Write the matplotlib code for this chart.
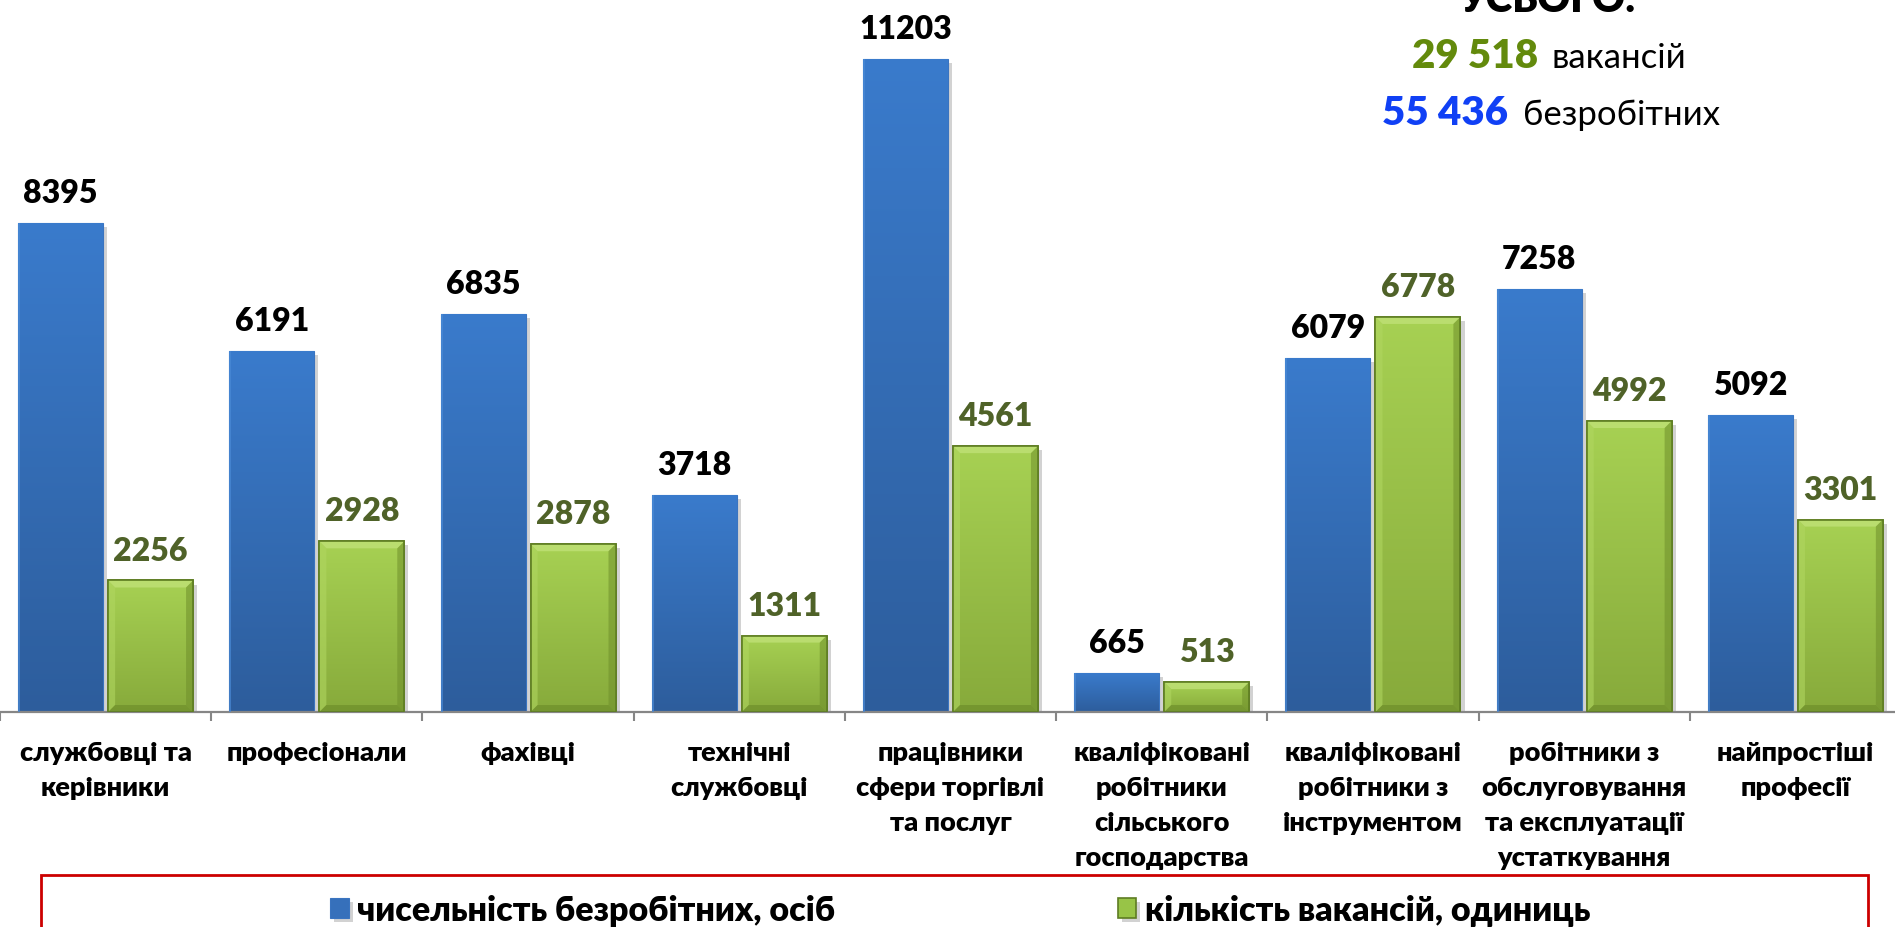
import numpy as np
import matplotlib
matplotlib.use("Agg")
import matplotlib.pyplot as plt
from matplotlib import patheffects as pe
from matplotlib.colors import LinearSegmentedColormap
from matplotlib.patches import Rectangle, Polygon

plt.rcParams['font.family'] = ['Lato', 'DejaVu Sans']

categories = ["службовці та\nкерівники", "професіонали", "фахівці", "технічні\nслужбовці",
              "працівники\nсфери торгівлі\nта послуг", "кваліфіковані\nробітники\nсільського\nгосподарства",
              "кваліфіковані\nробітники з\nінструментом", "робітники з\nобслуговування\nта експлуатації\nустаткування",
              "найпростіші\nпрофесії"]
unemployed = [8395, 6191, 6835, 3718, 11203, 665, 6079, 7258, 5092]
vacancies = [2256, 2928, 2878, 1311, 4561, 513, 6778, 4992, 3301]
series_names = ["чисельність безробітних, осіб", "кількість вакансій, одиниць"]
total_vac = "29 518"
total_unemp = "55 436"

BOLD = 'heavy'
W, H = 1895, 928
fig = plt.figure(figsize=(W / 100, H / 100), dpi=100)
ax_bottom = (H - 713) / H
ax = fig.add_axes([0, ax_bottom, 1901 / W, 1 - ax_bottom])
YMAX = 12232
ax.set_xlim(-0.5, len(categories) - 0.5)
ax.set_ylim(0, YMAX)

x = np.arange(len(categories))
bw = 0.402
off = 0.213
shadow = [pe.SimplePatchShadow(offset=(3, -3), shadow_rgbFace='gray', alpha=0.35), pe.Normal()]
b1 = ax.bar(x - off, unemployed, bw, color='#3670bb', edgecolor='#3a74c0', linewidth=0.8,
            zorder=2, path_effects=shadow, label=series_names[0])
b2 = ax.bar(x + off, vacancies, bw, color='#98c447', edgecolor='#5e7d22', linewidth=1.2,
            zorder=2, path_effects=shadow, label=series_names[1])

cm_blue = LinearSegmentedColormap.from_list('b', ['#2d5d9c', '#3a7bcc'])
cm_green = LinearSegmentedColormap.from_list('g', ['#87aa3b', '#a7d153'])
grad = np.linspace(0, 1, 256).reshape(-1, 1)
px_x = 9 / 1901.0
px_y = YMAX / 713.0
bev = 7
for rect in b1:
    x0, w, h = rect.get_x(), rect.get_width(), rect.get_height()
    im = ax.imshow(grad, extent=(x0, x0 + w, 0, h), origin='lower', aspect='auto',
                   cmap=cm_blue, zorder=2.5)
    im.set_clip_path(rect)
    ax.add_patch(Rectangle((x0, 0), 2 * px_x, h, facecolor='#4a8ad6', edgecolor='none',
                           alpha=0.7, zorder=2.55))
for rect in b2:
    x0, w, h = rect.get_x(), rect.get_width(), rect.get_height()
    im = ax.imshow(grad, extent=(x0, x0 + w, 0, h), origin='lower', aspect='auto',
                   cmap=cm_green, zorder=2.5)
    im.set_clip_path(rect)
    dx, dy = bev * px_x, min(bev * px_y, h / 2)
    x1, y1 = x0 + w, h
    # bevel facets
    ax.add_patch(Polygon([(x0, y1), (x1, y1), (x1 - dx, y1 - dy), (x0 + dx, y1 - dy)],
                         closed=True, facecolor='#c2e27a', edgecolor='none', alpha=0.75, zorder=2.55))
    ax.add_patch(Polygon([(x0, 0), (x0, y1), (x0 + dx, y1 - dy), (x0 + dx, dy)],
                         closed=True, facecolor='#b0d660', edgecolor='none', alpha=0.6, zorder=2.55))
    ax.add_patch(Polygon([(x1, 0), (x1, y1), (x1 - dx, y1 - dy), (x1 - dx, dy)],
                         closed=True, facecolor='#6f8f2b', edgecolor='none', alpha=0.55, zorder=2.55))
    ax.add_patch(Polygon([(x0, 0), (x1, 0), (x1 - dx, dy), (x0 + dx, dy)],
                         closed=True, facecolor='#6a8a28', edgecolor='none', alpha=0.6, zorder=2.55))
    ax.add_patch(Rectangle((x0, 0), w, h, facecolor='none', edgecolor='#5e7d22',
                           linewidth=1.2, zorder=2.6))

ax.set_xlim(-0.5, len(categories) - 0.5)
ax.set_ylim(0, YMAX)

for rect, v in zip(b1, unemployed):
    ax.annotate(str(v), (rect.get_x() + rect.get_width() / 2, rect.get_height()),
                xytext=(0, 15), textcoords='offset points', ha='center', va='baseline',
                fontsize=23, fontweight=BOLD, color='black')
for rect, v in zip(b2, vacancies):
    ax.annotate(str(v), (rect.get_x() + rect.get_width() / 2, rect.get_height()),
                xytext=(0, 15), textcoords='offset points', ha='center', va='baseline',
                fontsize=23, fontweight=BOLD, color='#4f6228')

for s in ['top', 'left', 'right']:
    ax.spines[s].set_visible(False)
ax.spines['bottom'].set_color('#868686')
ax.spines['bottom'].set_linewidth(1.6)
ax.set_yticks([])
ax.set_xticks(x)
ax.set_xticklabels(categories, fontsize=19.5, fontweight=BOLD, linespacing=1.55, va='top')
ax.tick_params(axis='x', which='major', length=0, pad=20)
ax.set_xticks(np.arange(-0.5, len(categories)), minor=True)
ax.tick_params(axis='x', which='minor', length=6.5, width=1.5, color='#868686', direction='out')
ax.set_facecolor('none')

# legend frame
fig.patches.append(Rectangle((41 / W, -0.02), (1868 - 41) / W, (928 - 876) / H + 0.02,
                             transform=fig.transFigure, facecolor='none',
                             edgecolor='#cc0000', linewidth=2))
leg = fig.legend(handles=[b1, b2], labels=series_names, loc='center',
                 bbox_to_anchor=(960 / W, 1 - 911 / H), ncol=2, frameon=False,
                 prop={'size': 24.5, 'weight': BOLD}, handlelength=0.55, handleheight=0.55,
                 handletextpad=0.25, columnspacing=8.3)

# totals
fig.text(1548 / W, 1 - 12 / H, "УСЬОГО:", ha='center', va='baseline', fontsize=29,
         fontweight=BOLD, color='black')
fig.text(1538 / W, 1 - 68 / H, total_vac, ha='right', va='baseline', fontsize=29,
         fontweight=BOLD, color='#638a0c')
fig.text(1552 / W, 1 - 68 / H, "вакансій", ha='left', va='baseline', fontsize=25, color='black')
fig.text(1508 / W, 1 - 125 / H, total_unemp, ha='right', va='baseline', fontsize=29,
         fontweight=BOLD, color='#1040f5')
fig.text(1523 / W, 1 - 125 / H, "безробітних", ha='left', va='baseline', fontsize=25, color='black')

fig.savefig("out.png", dpi=100)
